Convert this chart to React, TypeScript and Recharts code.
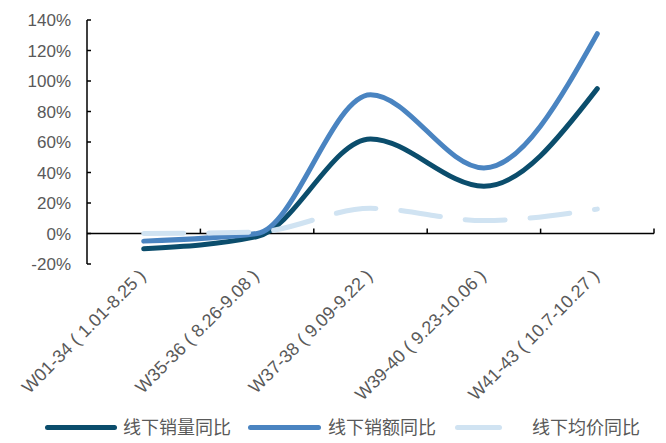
import { LineChart, Line, XAxis, YAxis, ReferenceLine } from "recharts";

const categories = [
  "W01-34 ( 1.01-8.25 )",
  "W35-36 ( 8.26-9.08 )",
  "W37-38 ( 9.09-9.22 )",
  "W39-40 ( 9.23-10.06 )",
  "W41-43 ( 10.7-10.27 )",
];

const volumeYoY = [-10, -2, 62, 31, 95];
const amountYoY = [-5, 0, 91, 43, 131];
const priceYoY = [0, 1, 16.5, 8.5, 16];

const yTicks = [-20, 0, 20, 40, 60, 80, 100, 120, 140];
const boundaries = [0.5, 1.5, 2.5, 3.5, 4.5];

const seriesNames = ["线下销量同比", "线下销额同比", "线下均价同比"];
const COLORS = ["#0B4D6C", "#4A84C1", "#D0E3F2"];

const data = categories.map((name, i) => ({
  idx: i,
  name,
  volume: volumeYoY[i],
  amount: amountYoY[i],
  price: priceYoY[i],
}));

const FONT = "'Liberation Sans', Arial, 'Noto Sans CJK SC', sans-serif";
const TEXT = "#595959";

const XTick = ({ x, y, payload }: any) => {
  return (
    <text
      transform={`translate(${x + 3},${y + 5}) rotate(-45)`}
      textAnchor="end"
      fontSize={18}
      fill={TEXT}
      fontFamily={FONT}
    >
      {categories[payload.value]}
    </text>
  );
};

// legend layout (px)
const legendPos = [
  { line: 45, width: 72, text: 123 },
  { line: 248, width: 73, text: 328 },
  { line: 455, width: 47, text: 532 },
];

export default function App() {
  return (
    <div style={{ position: "absolute", left: 0, top: 0, width: 666, height: 443, background: "#fff", fontFamily: FONT }}>
      <LineChart width={666} height={443} data={data} margin={{ top: 20, right: 12, bottom: 48, left: 0 }}>
        <XAxis
          type="number"
          dataKey="idx"
          domain={[-0.5, 4.5]}
          ticks={[0, 1, 2, 3, 4]}
          axisLine={false}
          tickLine={false}
          height={131}
          tick={<XTick />}
          interval={0}
        />
        <YAxis
          domain={[-20, 140]}
          ticks={yTicks}
          width={87}
          axisLine={{ stroke: "#000", strokeWidth: 1.5 }}
          tickLine={{ stroke: "#000", strokeWidth: 1.5 }}
          tickSize={-4}
          tickMargin={20}
          tickFormatter={(v: number) => `${v}%`}
          tick={{ fill: TEXT, fontSize: 17, fontFamily: FONT }}
        />
        <ReferenceLine y={0} stroke="#000" strokeWidth={1.5} />
        {/* small category-boundary ticks on the zero line */}
        {boundaries.map((b) => (
          <ReferenceLine
            key={b}
            segment={[{ x: b, y: 0 }, { x: b, y: 3.2 }]}
            stroke="#000"
            strokeWidth={1.5}
            ifOverflow="visible"
          />
        ))}
        <Line
          type="monotone"
          dataKey="volume"
          stroke={COLORS[0]}
          strokeWidth={5}
          strokeLinecap="round"
          dot={false}
          isAnimationActive={false}
        />
        <Line
          type="monotone"
          dataKey="amount"
          stroke={COLORS[1]}
          strokeWidth={5}
          strokeLinecap="round"
          dot={false}
          isAnimationActive={false}
        />
        <Line
          type="monotone"
          dataKey="price"
          stroke={COLORS[2]}
          strokeWidth={5}
          strokeLinecap="round"
          strokeDasharray="40 25"
          dot={false}
          isAnimationActive={false}
        />
      </LineChart>

      {/* Legend */}
      {seriesNames.map((name, i) => (
        <div key={name}>
          <div
            style={{
              position: "absolute",
              left: legendPos[i].line,
              top: 425,
              width: legendPos[i].width,
              height: 5,
              borderRadius: 3,
              background: COLORS[i],
            }}
          />
          <span
            style={{
              position: "absolute",
              left: legendPos[i].text,
              top: 417,
              fontSize: 18,
              color: TEXT,
              lineHeight: "22px",
              whiteSpace: "nowrap",
            }}
          >
            {name}
          </span>
        </div>
      ))}
    </div>
  );
}
